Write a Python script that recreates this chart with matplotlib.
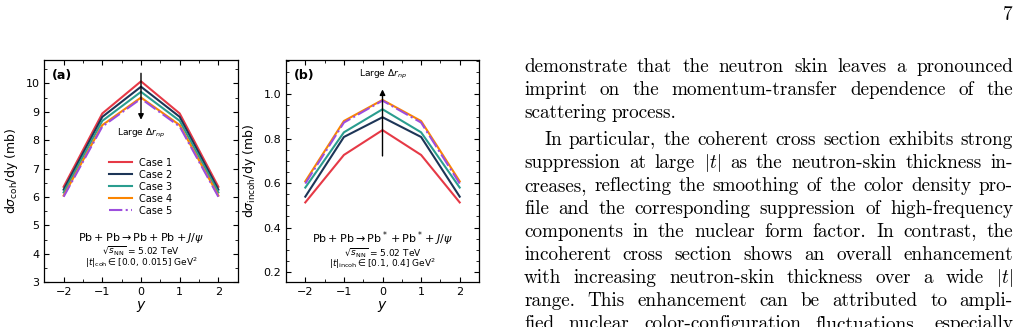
import numpy as np
import matplotlib.pyplot as plt
from matplotlib.ticker import MultipleLocator

W, H = 1021, 327

# --- data ---
y_vals = [-2, -1, 0, 1, 2]
case_labels = ['Case 1', 'Case 2', 'Case 3', 'Case 4', 'Case 5']
coh = [
    [6.36, 8.94, 10.07, 8.94, 6.36],
    [6.26, 8.82, 9.88, 8.82, 6.26],
    [6.16, 8.68, 9.70, 8.68, 6.16],
    [6.05, 8.53, 9.50, 8.53, 6.05],
    [6.01, 8.48, 9.46, 8.48, 6.01],
]
incoh = [
    [0.513, 0.727, 0.839, 0.727, 0.513],
    [0.539, 0.808, 0.897, 0.808, 0.539],
    [0.580, 0.829, 0.933, 0.829, 0.580],
    [0.608, 0.880, 0.975, 0.880, 0.608],
    [0.598, 0.873, 0.972, 0.873, 0.598],
]
colors = ['#e63946', '#1d3557', '#2a9d8f', '#fb8500', '#9d4edd']
styles = ['-', '-', '-', '-', '-.']

page_lines = [
    ("demonstrate that the neutron skin leaves a pronounced", True, False),
    ("imprint on the momentum-transfer dependence of the", True, False),
    ("scattering process.", False, False),
    ("In particular, the coherent cross section exhibits strong", True, True),
    ("suppression at large $|t|$ as the neutron-skin thickness in-", True, False),
    ("creases, reflecting the smoothing of the color density pro-", True, False),
    ("file and the corresponding suppression of high-frequency", True, False),
    ("components in the nuclear form factor. In contrast, the", True, False),
    ("incoherent cross section shows an overall enhancement", True, False),
    ("with increasing neutron-skin thickness over a wide $|t|$", True, False),
    ("range.  This enhancement can be attributed to ampli-", True, False),
    ("fied nuclear color-configuration fluctuations, especially", True, False),
]
line_y = [72, 95, 118, 145, 168, 191, 214, 237, 260, 283, 306, 329]

plt.rcParams['mathtext.fontset'] = 'dejavusans'
plt.rcParams['axes.linewidth'] = 0.9

fig = plt.figure(figsize=(W / 100, H / 100), dpi=100)


def style_axes(ax, ymajor, yminor):
    ax.tick_params(which='both', direction='in', top=True, right=True, labelsize=8)
    ax.tick_params(which='major', length=3.5, width=0.8)
    ax.tick_params(which='minor', length=2, width=0.6)
    ax.xaxis.set_major_locator(MultipleLocator(1))
    ax.xaxis.set_minor_locator(MultipleLocator(0.5))
    ax.yaxis.set_major_locator(MultipleLocator(ymajor))
    ax.yaxis.set_minor_locator(MultipleLocator(yminor))
    ax.set_xlim(-2.5, 2.5)
    ax.set_xlabel('$y$', fontsize=10, labelpad=1)


# panel (a)
ax1 = fig.add_axes([44.3 / W, 1 - 282.3 / H, 193.4 / W, 222.3 / H])
for vals, c, ls, lab in zip(coh, colors, styles, case_labels):
    ax1.plot(y_vals, vals, color=c, ls=ls, lw=1.5, label=lab)
ax1.set_ylim(3, 10.82)
style_axes(ax1, 1, 0.5)
ax1.set_ylabel(r'd$\sigma_{\mathrm{coh}}$/dy (mb)', fontsize=9, labelpad=4)
ax1.annotate('', xy=(0, 8.62), xytext=(0, 10.45),
             arrowprops=dict(arrowstyle='-|>', color='black', lw=1.0, mutation_scale=8))
ax1.text(0, 8.24, r'Large $\Delta r_{np}$', ha='center', va='center', fontsize=6.5)
ax1.text(0.04, 0.93, '(a)', transform=ax1.transAxes, fontsize=9, fontweight='bold', va='center')
ax1.legend(loc='center', bbox_to_anchor=(0.5, 0.43), frameon=False, fontsize=7,
           handlelength=2.3, labelspacing=0.2, handletextpad=0.8)
ax1.text(0.5, 0.2, r'$\mathrm{Pb}+\mathrm{Pb}\rightarrow\mathrm{Pb}+\mathrm{Pb}+J/\psi$',
         transform=ax1.transAxes, ha='center', va='center', fontsize=8)
ax1.text(0.5, 0.14, r'$\sqrt{s_{\mathrm{NN}}}$ = 5.02 TeV',
         transform=ax1.transAxes, ha='center', va='center', fontsize=6.5)
ax1.text(0.5, 0.086, r'$|t|_{\mathrm{coh}}\in[0.0,\, 0.015]$ GeV$^2$',
         transform=ax1.transAxes, ha='center', va='center', fontsize=6.5)

# panel (b)
ax2 = fig.add_axes([286 / W, 1 - 282.3 / H, 193 / W, 222.3 / H])
for vals, c, ls, lab in zip(incoh, colors, styles, case_labels):
    ax2.plot(y_vals, vals, color=c, ls=ls, lw=1.5, label=lab)
ax2.set_ylim(0.153, 1.155)
style_axes(ax2, 0.2, 0.05)
ax2.set_ylabel(r'd$\sigma_{\mathrm{incoh}}$/dy (mb)', fontsize=9, labelpad=4)
ax2.annotate('', xy=(0, 1.035), xytext=(0, 0.71),
             arrowprops=dict(arrowstyle='-|>', color='black', lw=1.0, mutation_scale=8))
ax2.text(0, 1.092, r'Large $\Delta r_{np}$', ha='center', va='center', fontsize=6.5)
ax2.text(0.04, 0.93, '(b)', transform=ax2.transAxes, fontsize=9, fontweight='bold', va='center')
ax2.text(0.5, 0.197, r'$\mathrm{Pb}+\mathrm{Pb}\rightarrow\mathrm{Pb}^*+\mathrm{Pb}^*+J/\psi$',
         transform=ax2.transAxes, ha='center', va='center', fontsize=8)
ax2.text(0.5, 0.135, r'$\sqrt{s_{\mathrm{NN}}}$ = 5.02 TeV',
         transform=ax2.transAxes, ha='center', va='center', fontsize=6.5)
ax2.text(0.5, 0.081, r'$|t|_{\mathrm{incoh}}\in[0.1,\, 0.4]$ GeV$^2$',
         transform=ax2.transAxes, ha='center', va='center', fontsize=6.5)

# page text on the right (justified, Computer Modern)
body_kw = dict(family='cmr10', fontsize=13.8, va='baseline', math_fontfamily='cm')
fig.text(1008 / W, 1 - 20 / H, '7', ha='center', **body_kw)

fig.canvas.draw()
renderer = fig.canvas.get_renderer()
left, right = 524, 1013
for (line, justify, indent), yb in zip(page_lines, line_y):
    words = line.split()
    x0 = left + (20 if indent else 0)
    objs = [fig.text(0, 1 - yb / H, w, **body_kw) for w in words]
    widths = [o.get_window_extent(renderer).width for o in objs]
    if justify and len(words) > 1:
        gap = (right - x0 - sum(widths)) / (len(words) - 1)
    else:
        gap = 5.5
    x = x0
    for o, w in zip(objs, widths):
        o.set_x(x / W)
        x += w + gap

fig.savefig('out.png', dpi=100)
